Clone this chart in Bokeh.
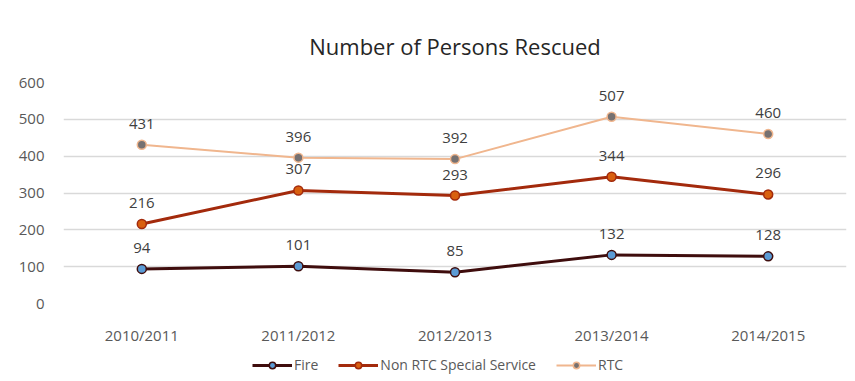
from bokeh.plotting import figure
from bokeh.models import FactorRange, Range1d, Legend, LegendItem, ColumnDataSource, LabelSet
from bokeh.layouts import column
from bokeh.core.properties import value
from bokeh.embed import file_html
from bokeh.resources import INLINE

years = ["2010/2011", "2011/2012", "2012/2013", "2013/2014", "2014/2015"]
fire = [94, 101, 85, 132, 128]
non_rtc = [216, 307, 293, 344, 296]
rtc = [431, 396, 392, 507, 460]
y_ticks = [0, 100, 200, 300, 400, 500, 600]

FONT = "Open Sans"

p = figure(width=847, height=347, output_backend="svg", toolbar_location=None,
           x_range=FactorRange(factors=years, range_padding=0),
           y_range=Range1d(0, 600),
           min_border_left=63, min_border_right=1, min_border_top=82, min_border_bottom=43)
p.title.text = "Number of Persons Rescued"
p.title.align = "center"
p.title.text_font = FONT
p.title.text_font_size = "22px"
p.title.text_font_style = "normal"
p.title.text_color = "#262626"
p.title.standoff = 43

p.outline_line_color = None
p.xgrid.grid_line_color = None
p.ygrid.grid_line_color = "#d9d9d9"
p.ygrid.grid_line_width = 1.5
p.ygrid.ticker = y_ticks
p.yaxis.ticker = y_ticks
for ax in (p.xaxis, p.yaxis):
    ax.axis_line_color = None
    ax.major_tick_line_color = None
    ax.minor_tick_line_color = None
    ax.major_label_text_font = FONT
    ax.major_label_text_font_size = "15px"
    ax.major_label_text_color = "#595959"
p.xaxis.major_label_standoff = 15
p.yaxis.major_label_standoff = 13

series = [
    ("Fire", fire, "#3f0d0d", "#5b9bd5", "#3f0d0d", 3),
    ("Non RTC Special Service", non_rtc, "#a32a0c", "#d9600f", "#a32a0c", 3),
    ("RTC", rtc, "#f0b68e", "#767171", "#f0b68e", 2),
]

# legend-only figure (same data, drawn outside its visible range)
lg = figure(width=847, height=30, output_backend="svg", toolbar_location=None,
            x_range=FactorRange(factors=years, range_padding=0),
            y_range=Range1d(1000, 1001),
            min_border_left=0, min_border_right=0, min_border_top=0, min_border_bottom=0)
lg.xaxis.visible = False
lg.yaxis.visible = False
lg.xgrid.grid_line_color = None
lg.ygrid.grid_line_color = None
lg.outline_line_color = None

items = []
for name, vals, lc, fc, mc, lw in series:
    src = ColumnDataSource(dict(x=years, y=vals, t=[str(v) for v in vals]))
    p.line("x", "y", source=src, line_color=lc, line_width=lw)
    p.scatter("x", "y", source=src, size=9, fill_color=fc, line_color=mc, line_width=1.5)
    lab = LabelSet(x="x", y="y", text="t", source=src, y_offset=16, text_align="center",
                   text_baseline="bottom", text_font=value(FONT), text_font_size="15px",
                   text_color="#404040")
    p.add_layout(lab)
    r1 = lg.line("x", "y", source=src, line_color=lc, line_width=lw)
    r2 = lg.scatter("x", "y", source=src, size=9, fill_color=fc, line_color=mc, line_width=1.5)
    items.append(LegendItem(label=name, renderers=[r1, r2]))

legend = Legend(items=items, orientation="horizontal", location=(189, 3),
                label_text_font=FONT, label_text_font_size="14px", label_text_color="#595959",
                border_line_color=None, background_fill_alpha=0, spacing=20,
                glyph_width=40, glyph_height=16, label_standoff=2, padding=4, margin=0)
lg.add_layout(legend)

layout = column(p, lg, spacing=0)
open("out.html", "w").write(file_html(layout, INLINE))
